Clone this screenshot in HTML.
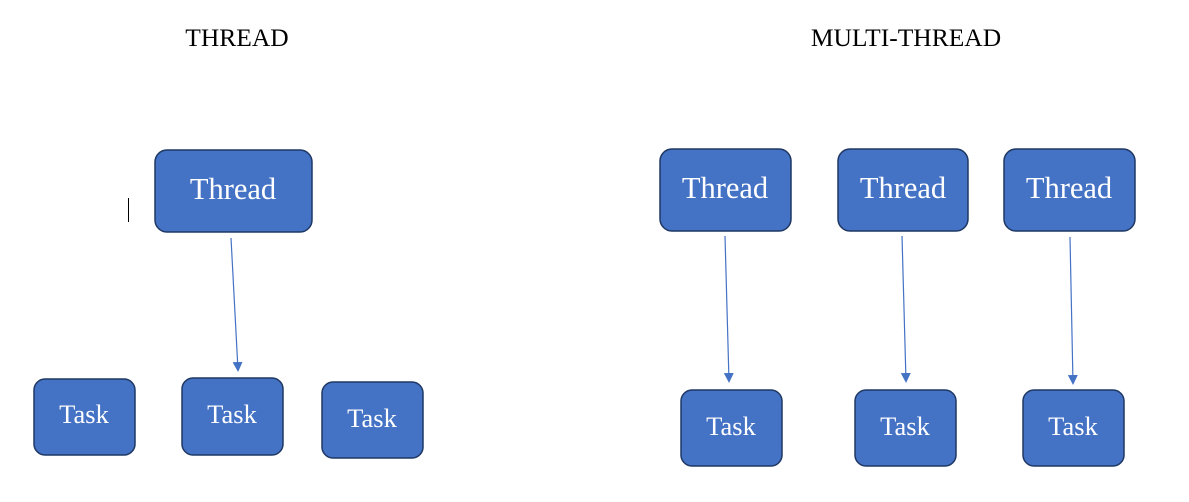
<!DOCTYPE html>
<html><head><style>
html,body{margin:0;padding:0;background:#fff;}
svg{display:block;}
text{font-family:"Liberation Serif",serif;}
</style></head><body>
<svg width="1189" height="502" viewBox="0 0 1189 502" xmlns="http://www.w3.org/2000/svg">
<defs>
<marker id="a" markerWidth="10" markerHeight="10" refX="8" refY="5" orient="auto" markerUnits="userSpaceOnUse">
<path d="M0,0 L10,5 L0,10 z" fill="#4472C4"/></marker>
</defs>
<g fill="#000" font-size="25.5" text-anchor="middle">
<text x="237" y="46">THREAD</text>
<text x="906" y="46">MULTI-THREAD</text>
</g>
<line x1="128.5" y1="198" x2="128.5" y2="222" stroke="#000" stroke-width="1"/>
<g fill="#4472C4" stroke="#1F3864" stroke-width="1.5">
<rect x="155" y="150" width="157" height="82" rx="12"/>
<rect x="660" y="149" width="131" height="82" rx="12"/>
<rect x="838" y="149" width="130" height="82" rx="12"/>
<rect x="1004" y="149" width="131" height="82" rx="12"/>
<rect x="34" y="379" width="101" height="76" rx="11"/>
<rect x="182" y="378" width="101" height="77" rx="11"/>
<rect x="322" y="382" width="101" height="76" rx="11"/>
<rect x="681" y="390" width="101" height="76" rx="11"/>
<rect x="855" y="390" width="101" height="76" rx="11"/>
<rect x="1023" y="390" width="101" height="76" rx="11"/>
</g>
<g fill="#fff" font-size="30.5" text-anchor="middle">
<text x="233" y="199">Thread</text>
<text x="725" y="198">Thread</text>
<text x="903" y="198">Thread</text>
<text x="1069" y="198">Thread</text>
</g>
<g fill="#fff" font-size="26.5" text-anchor="middle">
<text x="84" y="423">Task</text>
<text x="232" y="423">Task</text>
<text x="372" y="427">Task</text>
<text x="731" y="435">Task</text>
<text x="905" y="435">Task</text>
<text x="1073" y="435">Task</text>
</g>
<g stroke="#4472C4" stroke-width="1.2" marker-end="url(#a)">
<line x1="231" y1="238" x2="238" y2="370"/>
<line x1="725" y1="236" x2="729" y2="381"/>
<line x1="902" y1="236" x2="906" y2="381"/>
<line x1="1070" y1="237" x2="1073" y2="383"/>
</g>
</svg>
</body></html>
